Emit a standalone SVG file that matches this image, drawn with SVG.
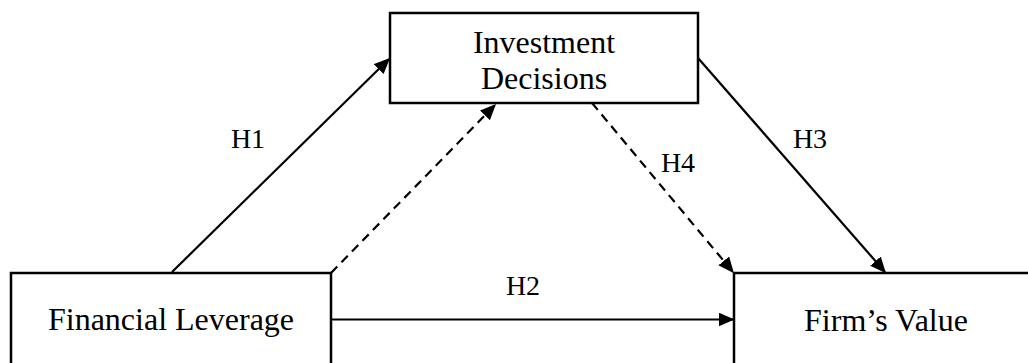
<svg xmlns="http://www.w3.org/2000/svg" width="1028" height="363" viewBox="0 0 1028 363">
  <style>
    .box { fill: #ffffff; stroke: #000000; stroke-width: 2.5; }
    .label { font-family: "Liberation Serif", "Times New Roman", serif; font-size: 32px; fill: #000000; text-anchor: middle; }
    .hyp { font-family: "Liberation Serif", "Times New Roman", serif; font-size: 28px; fill: #000000; text-anchor: middle; }
    .conn { stroke: #000000; stroke-width: 2.2; fill: none; }
    .dash { stroke-dasharray: 9 6; }
  </style>
  <defs>
    <marker id="arrow" markerUnits="userSpaceOnUse" markerWidth="16" markerHeight="14" refX="14.5" refY="7" orient="auto">
      <path d="M0,0 L16,7 L0,14 Z" fill="#000000"/>
    </marker>
  </defs>
  <rect width="1028" height="363" fill="#ffffff"/>

  <g id="node-investment-decisions">
    <rect class="box" x="390" y="13" width="308" height="90"/>
    <text class="label" x="544" y="53">Investment</text>
    <text class="label" x="544" y="89">Decisions</text>
  </g>

  <g id="node-financial-leverage">
    <rect class="box" x="11" y="273" width="320" height="100"/>
    <text class="label" x="171" y="330">Financial Leverage</text>
  </g>

  <g id="node-firms-value">
    <rect class="box" x="734" y="273" width="310" height="100"/>
    <text class="label" x="886" y="331">Firm’s Value</text>
  </g>

  <g id="connectors">
    <line class="conn" x1="172" y1="272" x2="389" y2="59" marker-end="url(#arrow)"/>
    <line class="conn dash" x1="331" y1="273" x2="495" y2="105" marker-end="url(#arrow)"/>
    <line class="conn" x1="698" y1="58" x2="885" y2="272" marker-end="url(#arrow)"/>
    <line class="conn dash" x1="592" y1="103" x2="733" y2="272" marker-end="url(#arrow)"/>
    <line class="conn" x1="331" y1="319.5" x2="733" y2="319.5" marker-end="url(#arrow)"/>
  </g>

  <g id="labels">
    <text class="hyp" x="248" y="148">H1</text>
    <text class="hyp" x="523" y="295">H2</text>
    <text class="hyp" x="810" y="148">H3</text>
    <text class="hyp" x="678" y="172">H4</text>
  </g>
</svg>
